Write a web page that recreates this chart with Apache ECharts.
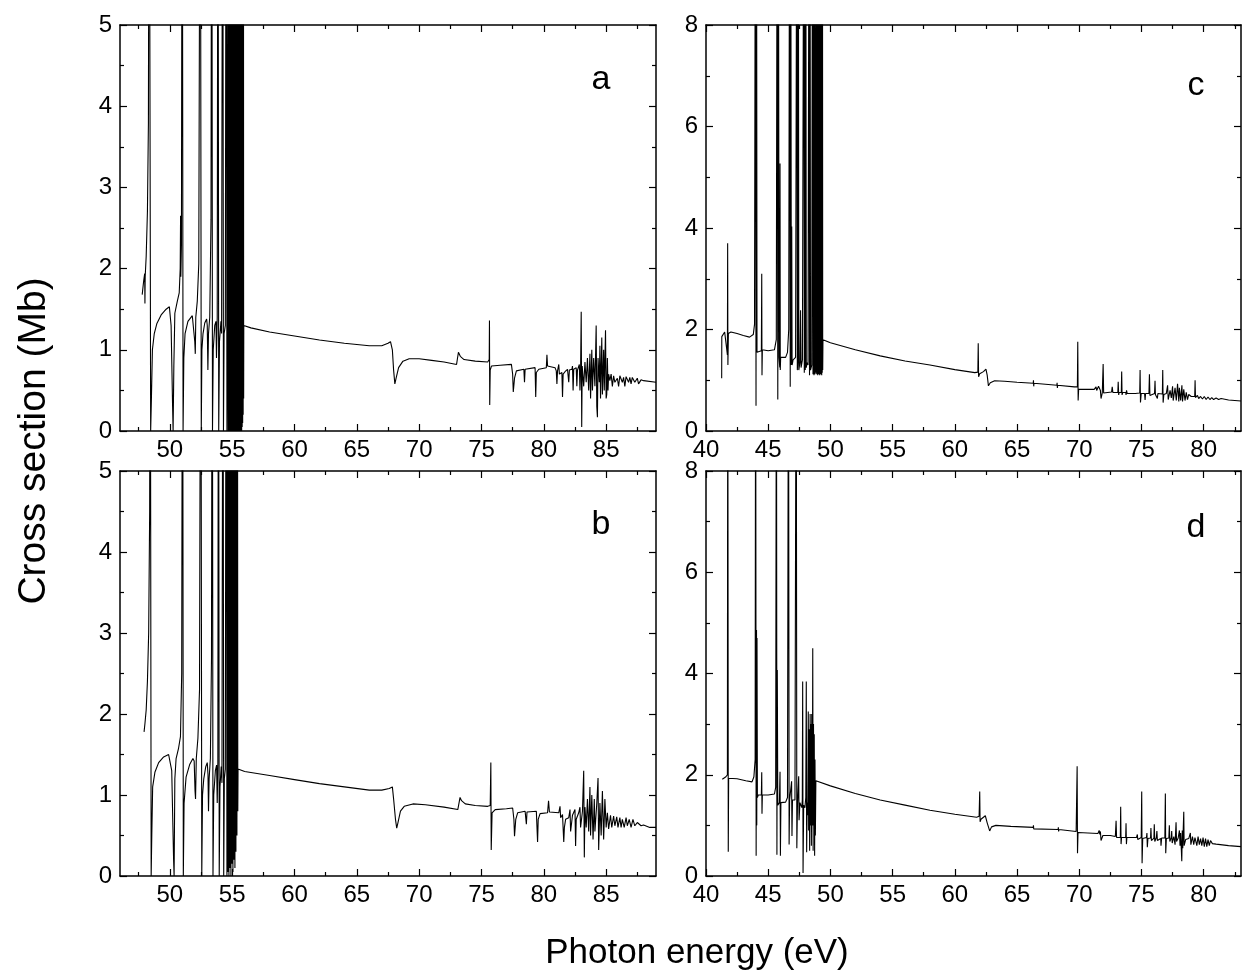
<!DOCTYPE html>
<html><head><meta charset="utf-8">
<script src="https://cdn.jsdelivr.net/npm/echarts@6/dist/echarts.min.js"></script>
<style>html,body{margin:0;padding:0;background:#fff}#chart{width:1249px;height:980px}</style>
</head><body><div id="chart"></div>
<script>
// ---- data: [photon energy (eV), cross section (Mb)] ----
const panelA = [
[47.78,1.68],[47.9,1.85],[47.98,1.94],[48.0,1.57],[48.02,1.9],[48.1,2.15],[48.2,2.7],[48.28,3.8],[48.34,9],[48.46,0],[48.52,0.4],[48.6,1.0],[48.75,1.2],[48.95,1.32],[49.3,1.43],[49.7,1.5],[49.96,1.53],[50.1,1.3],[50.22,0.3],[50.26,0],[50.32,0.8],[50.4,1.45],[50.6,1.6],[50.75,1.7],[50.83,2.0],[50.86,2.65],[50.88,1.9],[50.93,2.3],[50.99,9],[51.06,0],[51.12,0.9],[51.22,1.2],[51.45,1.35],[51.8,1.42],[51.92,1.42],[52.0,1.1],[52.04,0.95],[52.08,1.4],[52.2,1.6],[52.32,2.06],[52.44,9],[52.52,0],[52.57,1.0],[52.66,1.2],[52.8,1.33],[52.95,1.38],[53.0,1.3],[53.05,0.75],[53.1,1.2],[53.2,1.4],[53.3,2.6],[53.36,9],[53.42,0],[53.48,1.0],[53.6,1.3],[53.7,1.35],[53.74,0.9],[53.8,1.4],[53.86,9],[53.92,0],[53.98,1.1],[54.1,1.35],[54.15,1.2],[54.24,9],[54.3,0],[54.35,1.2],[54.45,1.3],[54.52,9],[54.58,0],[54.62,1.2],
[54.66,9],[54.68,0],[54.70,9],[54.72,0],[54.74,9],[54.76,0],[54.78,9],[54.80,0],[54.82,9],[54.84,0],[54.86,9],[54.88,0],[54.90,9],[54.92,0],[54.94,9],[54.96,0],[54.98,9],[55.00,0],[55.02,9],[55.04,0],[55.06,9],[55.08,0],[55.10,9],[55.12,0],[55.14,9],[55.16,0],[55.18,9],[55.20,0],[55.22,9],[55.24,0],[55.26,9],[55.28,0],[55.30,9],[55.32,0],[55.34,9],[55.36,0],[55.38,9],[55.40,0],[55.42,9],[55.44,0],[55.46,9],[55.48,0],[55.50,9],[55.52,0],[55.54,9],[55.56,0],[55.58,9],[55.60,0],[55.62,9],[55.64,0],[55.66,9],[55.68,0],[55.70,9],[55.72,0],[55.74,9],[55.76,0],[55.78,9],[55.80,0.05],[55.82,9],[55.84,0.1],[55.86,9],[55.88,0.2],[55.90,9],[55.92,0.4],[55.93,1.3],
[56.5,1.27],[58,1.22],[60,1.17],[62,1.12],[64,1.08],[66,1.05],[67,1.05],[67.5,1.08],[67.7,1.1],[67.85,1.0],[67.95,0.75],[68.05,0.58],[68.15,0.65],[68.35,0.78],[68.7,0.86],[69.2,0.89],[70,0.89],[71,0.87],[72,0.85],[73.0,0.82],[73.1,0.81],[73.15,0.97],[73.3,0.92],[73.6,0.88],[74.5,0.86],[75.5,0.85],[75.62,0.88],[75.64,1.36],[75.66,0.32],[75.7,0.75],[75.8,0.8],[76.5,0.81],[77.4,0.82],[77.5,0.7],[77.55,0.48],[77.65,0.65],[77.8,0.74],[78.4,0.76],[78.45,0.6],[78.5,0.76],[79.3,0.78],[79.35,0.42],[79.4,0.72],[79.6,0.76],[80.2,0.78],[80.25,0.94],[80.3,0.8],[80.9,0.78],[81.0,0.74],[81.05,0.58],[81.1,0.74],[81.2,0.82],[81.25,0.7],[81.45,0.72],[81.5,0.42],[81.55,0.7],[81.7,0.73],[81.9,0.76],[82.0,0.6],[82.05,0.75],[82.25,0.76],[82.3,0.8],[82.35,0.5],[82.4,0.76],[82.6,0.78],[82.65,0.55],[82.7,0.75],[82.85,0.82],[82.9,0.5],[82.95,0.75],[83.0,1.47],[83.04,0.05],[83.08,0.8],[83.2,0.55],[83.3,0.85],[83.4,0.6],[83.5,0.9],[83.6,0.5],[83.7,0.95],[83.75,0.4],[83.85,1.0],[83.9,0.5],[84.0,0.9],[84.1,0.55],[84.2,1.3],[84.25,0.3],[84.3,0.17],[84.35,0.9],[84.45,0.6],[84.5,1.05],[84.55,0.4],[84.65,1.15],[84.7,0.45],[84.8,1.0],[84.85,0.5],[84.95,1.24],[85.0,0.4],[85.05,0.45],[85.1,0.9],[85.15,0.5],[85.2,0.7],[85.3,0.62],[85.4,0.7],[85.5,0.55],[85.6,0.68],[85.7,0.6],[85.9,0.65],[86.0,0.55],[86.1,0.68],[86.3,0.6],[86.4,0.66],[86.5,0.55],[86.6,0.67],[86.8,0.6],[86.9,0.66],[87.0,0.58],[87.1,0.66],[87.3,0.6],[87.5,0.65],[87.6,0.58],[87.8,0.63],[88,0.62],[89,0.6]
];
const panelB = [
[47.93,1.78],[48.0,1.88],[48.1,2.05],[48.2,2.4],[48.3,3.0],[48.38,4.5],[48.42,9],[48.5,0],[48.55,0.5],[48.62,1.1],[48.8,1.28],[49.1,1.4],[49.5,1.47],[49.9,1.5],[50.02,1.5],[50.15,1.3],[50.3,0.2],[50.34,0],[50.4,1.2],[50.5,1.45],[50.7,1.58],[50.85,1.72],[50.95,2.5],[51.02,9],[51.08,0],[51.14,0.9],[51.3,1.22],[51.6,1.38],[51.85,1.45],[51.95,1.42],[52.02,1.05],[52.06,0.95],[52.12,1.45],[52.25,1.7],[52.38,2.3],[52.48,9],[52.56,0],[52.62,1.0],[52.72,1.2],[52.88,1.35],[53.0,1.4],[53.06,1.25],[53.1,0.8],[53.15,1.2],[53.25,1.45],[53.34,2.7],[53.4,9],[53.46,0],[53.52,1.0],[53.65,1.3],[53.75,1.37],[53.8,0.9],[53.85,1.4],[53.9,9],[53.96,0],[54.02,1.1],[54.12,1.35],[54.18,1.15],[54.26,9],[54.32,0],[54.37,1.2],[54.45,1.32],[54.52,9],[54.58,0],[54.62,9],[54.66,0.05],[54.7,9],[54.74,0],[54.78,9],[54.82,0.1],[54.86,9],[54.9,0],[54.94,9],[54.98,0.15],[55.02,9],[55.06,0.05],[55.1,9],[55.14,0.2],[55.18,9],[55.22,0.1],[55.26,9],[55.3,0.3],[55.34,9],[55.38,0.5],[55.42,9],[55.45,0.8],[55.47,1.32],
[56,1.29],[58,1.24],[60,1.19],[62,1.14],[64,1.1],[66,1.06],[67,1.06],[67.6,1.08],[67.85,1.1],[67.95,0.95],[68.1,0.7],[68.2,0.59],[68.3,0.66],[68.5,0.8],[68.8,0.86],[69.5,0.89],[70.5,0.88],[72,0.85],[73.1,0.82],[73.2,0.81],[73.28,0.97],[73.4,0.93],[73.7,0.89],[74.5,0.87],[75.5,0.86],[75.7,0.87],[75.75,1.40],[75.78,0.32],[75.85,0.78],[76.1,0.82],[77.0,0.83],[77.5,0.84],[77.6,0.7],[77.65,0.49],[77.75,0.7],[77.9,0.78],[78.5,0.8],[78.6,0.64],[78.65,0.79],[79.4,0.8],[79.5,0.42],[79.55,0.7],[79.7,0.77],[80.3,0.78],[80.38,0.93],[80.45,0.79],[81.2,0.78],[81.3,0.86],[81.35,0.72],[81.5,0.76],[81.6,0.42],[81.65,0.6],[81.75,0.7],[82.0,0.72],[82.1,0.82],[82.15,0.55],[82.3,0.75],[82.5,0.82],[82.55,0.37],[82.6,0.7],[82.8,0.78],[82.9,0.85],[82.95,0.6],[83.1,0.8],[83.2,1.3],[83.25,0.23],[83.3,0.85],[83.4,0.6],[83.5,0.95],[83.6,0.55],[83.7,1.1],[83.75,0.5],[83.85,1.0],[83.95,0.45],[84.05,0.95],[84.1,0.55],[84.25,0.9],[84.35,1.21],[84.4,0.32],[84.5,0.9],[84.6,0.5],[84.7,1.05],[84.8,0.45],[84.9,0.95],[85.0,0.6],[85.1,0.78],[85.2,0.58],[85.35,0.75],[85.45,0.6],[85.6,0.74],[85.7,0.62],[85.85,0.73],[85.95,0.6],[86.1,0.72],[86.2,0.6],[86.3,0.7],[86.45,0.6],[86.6,0.72],[86.7,0.62],[86.85,0.7],[87.0,0.6],[87.15,0.7],[87.3,0.62],[87.5,0.66],[87.8,0.62],[88.0,0.63],[88.5,0.6],[89,0.6]
];
const panelC = [
[41.26,1.04],[41.27,1.86],[41.5,1.95],[41.65,1.97],[41.72,1.5],[41.74,3.7],[41.76,1.3],[41.8,1.92],[42.0,1.95],[42.5,1.92],[43.0,1.88],[43.5,1.85],[43.8,1.9],[43.9,2.1],[43.97,12],[44.02,0.5],[44.06,12],[44.1,1.55],[44.2,1.55],[44.45,1.58],[44.48,3.1],[44.5,1.1],[44.53,1.6],[45.0,1.58],[45.5,1.6],[45.65,1.8],[45.72,12],[45.77,0.62],[45.82,12],[45.87,1.45],[45.93,1.25],[45.95,5.27],[45.97,1.2],[46.0,1.45],[46.4,1.45],[46.55,1.55],[46.65,2.0],[46.72,12],[46.77,0.87],[46.81,12],[46.86,1.3],[46.89,4.03],[46.92,1.3],[47.0,1.4],[47.2,1.45],[47.3,12],[47.34,1.2],[47.38,1.4],[47.42,12],[47.46,1.2],[47.55,1.35],[47.6,2.38],[47.64,1.25],[47.75,1.4],[47.86,12],[47.9,1.15],[47.94,12],[47.98,1.2],[48.02,12],[48.06,1.25],[48.12,1.35],[48.2,1.3],[48.28,12],[48.32,1.1],[48.36,12],[48.4,1.2],[48.5,1.3],[48.56,12],[48.6,1.12],[48.64,12],[48.68,1.1],[48.72,12],[48.76,1.12],[48.8,1.3],
[48.84,12],[48.86,1.15],[48.88,12],[48.90,1.12],[48.92,12],[48.94,1.15],[48.96,12],[48.98,1.1],[49.00,12],[49.02,1.18],[49.04,12],[49.06,1.12],[49.08,12],[49.10,1.15],[49.12,12],[49.14,1.1],[49.16,12],[49.18,1.16],[49.20,12],[49.22,1.12],[49.24,12],[49.26,1.15],[49.28,12],[49.30,1.1],[49.32,12],[49.34,1.15],[49.36,12],[49.38,1.2],[49.40,1.8],
[50,1.74],[52,1.6],[54,1.48],[56,1.38],[58,1.3],[60,1.21],[61.6,1.15],[61.85,1.16],[61.88,1.73],[61.91,1.07],[62.0,1.13],[62.3,1.17],[62.5,1.22],[62.6,1.1],[62.7,0.89],[62.85,0.95],[63.2,0.99],[64,0.98],[65,0.96],[66.3,0.94],[66.32,1.0],[66.34,0.88],[66.36,0.94],[68.2,0.9],[68.22,0.95],[68.24,0.85],[68.26,0.9],[69.6,0.87],[69.85,0.87],[69.88,1.76],[69.91,0.6],[69.95,0.82],[70.5,0.82],[71.2,0.82],[71.35,0.87],[71.4,0.8],[71.55,0.88],[71.7,0.8],[71.75,0.64],[71.85,0.75],[71.92,1.32],[71.96,0.75],[72.1,0.77],[72.6,0.77],[72.65,0.87],[72.7,0.76],[73.1,0.76],[73.13,0.97],[73.17,0.71],[73.2,0.76],[73.38,0.76],[73.41,1.17],[73.44,0.71],[73.5,0.76],[73.74,0.76],[73.76,0.71],[73.8,0.8],[73.85,0.74],[74.5,0.74],[74.86,0.75],[74.89,1.2],[74.92,0.56],[74.98,0.74],[75.25,0.74],[75.29,0.61],[75.33,0.74],[75.6,0.74],[75.64,1.12],[75.68,0.7],[75.8,0.73],[76.05,0.74],[76.09,0.99],[76.12,0.72],[76.26,0.72],[76.28,0.64],[76.32,0.74],[76.68,0.73],[76.71,1.2],[76.74,0.56],[76.8,0.72],[77.0,0.74],[77.1,0.9],[77.15,0.62],[77.3,0.8],[77.4,0.65],[77.5,0.88],[77.55,0.6],[77.7,0.85],[77.8,0.6],[77.9,0.93],[78.0,0.58],[78.05,0.85],[78.15,0.6],[78.25,0.9],[78.3,0.58],[78.4,0.82],[78.5,0.6],[78.6,0.76],[78.7,0.62],[78.8,0.72],[79.0,0.68],[79.28,0.68],[79.31,1.0],[79.34,0.66],[79.5,0.7],[79.6,0.64],[79.75,0.68],[79.9,0.63],[80.05,0.68],[80.2,0.62],[80.35,0.67],[80.5,0.62],[80.65,0.66],[80.8,0.62],[81.0,0.65],[81.2,0.62],[81.4,0.64],[82,0.61],[83,0.59]
];
const panelD = [
[41.31,1.91],[41.6,1.96],[41.72,2.0],[41.75,12],[41.79,0.48],[41.82,1.93],[42.5,1.92],[43.2,1.88],[43.7,1.86],[43.85,1.96],[43.95,2.3],[43.99,12],[44.03,0.4],[44.06,4.86],[44.08,1.0],[44.1,4.7],[44.13,1.55],[44.2,1.6],[44.45,1.6],[44.48,2.05],[44.5,1.23],[44.53,1.6],[45.0,1.6],[45.5,1.62],[45.6,1.75],[45.66,12],[45.7,0.42],[45.73,4.07],[45.77,1.4],[45.9,1.45],[45.95,2.06],[45.98,0.4],[46.02,1.45],[46.4,1.46],[46.55,1.55],[46.63,12],[46.68,0.62],[46.72,1.5],[46.88,1.87],[46.91,0.79],[46.95,1.5],[47.15,1.5],[47.25,12],[47.3,0.55],[47.35,1.4],[47.45,1.97],[47.48,1.1],[47.55,1.45],[47.7,1.35],[47.74,1.5],[47.77,3.84],[47.8,0.06],[47.85,1.4],[47.95,1.35],[48.02,1.55],[48.06,3.84],[48.09,0.47],[48.13,1.45],[48.18,1.2],[48.22,3.25],[48.25,0.9],[48.3,2.9],[48.33,0.5],[48.37,3.2],[48.4,1.0],[48.44,3.0],[48.47,0.6],[48.5,3.2],[48.53,1.0],[48.56,2.5],[48.58,4.5],[48.61,0.5],[48.64,3.0],[48.67,1.0],[48.7,2.8],[48.73,0.4],[48.76,2.3],[48.79,0.8],[48.83,1.88],
[50,1.78],[52,1.63],[54,1.5],[56,1.4],[58,1.3],[60,1.22],[61.75,1.16],[61.95,1.18],[62.0,1.67],[62.03,1.07],[62.1,1.12],[62.25,1.15],[62.45,1.19],[62.6,1.05],[62.8,0.89],[62.95,0.97],[63.3,1.0],[64.5,0.98],[66.3,0.96],[66.32,1.0],[66.34,0.93],[66.36,0.96],[68.3,0.92],[68.32,0.96],[68.34,0.88],[68.36,0.92],[69.75,0.88],[69.8,0.88],[69.83,2.17],[69.86,0.45],[69.9,0.86],[71.5,0.84],[71.6,0.9],[71.65,0.82],[71.7,0.88],[71.75,0.7],[71.8,0.68],[71.9,0.8],[72.5,0.8],[72.9,0.78],[72.96,1.09],[73.0,0.76],[73.3,0.76],[73.33,1.37],[73.36,0.63],[73.4,0.76],[73.73,0.76],[73.76,1.04],[73.79,0.63],[73.83,0.76],[74.6,0.76],[74.67,0.82],[74.7,0.72],[74.98,0.76],[75.02,1.67],[75.05,0.25],[75.1,0.74],[75.4,0.76],[75.44,0.85],[75.47,0.57],[75.52,0.74],[75.73,0.75],[75.76,0.95],[75.8,0.7],[76.0,0.75],[76.03,1.02],[76.07,0.68],[76.2,0.76],[76.24,0.89],[76.28,0.7],[76.55,0.74],[76.57,0.6],[76.62,0.75],[76.88,0.75],[76.92,1.63],[76.95,0.45],[77.0,0.74],[77.2,0.75],[77.24,1.0],[77.28,0.68],[77.4,0.76],[77.43,0.89],[77.47,0.65],[77.6,0.78],[77.7,0.62],[77.78,1.06],[77.82,0.68],[77.95,0.75],[78.05,0.9],[78.1,0.6],[78.15,0.85],[78.2,0.55],[78.24,0.29],[78.28,0.9],[78.32,0.55],[78.36,0.95],[78.4,1.27],[78.43,0.6],[78.55,0.72],[78.8,0.74],[78.93,0.85],[78.97,0.62],[79.1,0.78],[79.2,0.62],[79.3,0.76],[79.45,0.6],[79.55,0.78],[79.65,0.62],[79.75,0.74],[79.85,0.6],[79.95,0.76],[80.05,0.58],[80.15,0.74],[80.25,0.58],[80.35,0.72],[80.45,0.6],[80.55,0.7],[80.7,0.64],[81,0.63],[82,0.6],[83,0.58]
];

// ---- tick values and labels ----
const xMajorAB = [50,55,60,65,70,75,80,85];
const xMinorAB = [47.5,52.5,57.5,62.5,67.5,72.5,77.5,82.5,87.5];
const yMajorAB = [0,1,2,3,4,5];
const yMinorAB = [0.5,1.5,2.5,3.5,4.5];
const xMajorCD = [40,45,50,55,60,65,70,75,80];
const xMinorCD = [42.5,47.5,52.5,57.5,62.5,67.5,72.5,77.5,82.5];
const yMajorCD = [0,2,4,6,8];
const yMinorCD = [1,3,5,7];
const panelLetters = ['a','b','c','d'];
const xTitle = 'Photon energy (eV)';
const yTitle = 'Cross section (Mb)';

const FONT = '"Liberation Sans", Arial, Helvetica, sans-serif';
const panels = [
  {data: panelA, grid:{left:120, top:25, width:536, height:406}, x:[46,89], y:[0,5], xM:xMajorAB, xm:xMinorAB, yM:yMajorAB, ym:yMinorAB, lab:[601,80]},
  {data: panelB, grid:{left:120, top:471, width:536, height:405}, x:[46,89], y:[0,5], xM:xMajorAB, xm:xMinorAB, yM:yMajorAB, ym:yMinorAB, lab:[601,525]},
  {data: panelC, grid:{left:706, top:25, width:535, height:406}, x:[40,83], y:[0,8], xM:xMajorCD, xm:xMinorCD, yM:yMajorCD, ym:yMinorCD, lab:[1196,86]},
  {data: panelD, grid:{left:706, top:471, width:535, height:405}, x:[40,83], y:[0,8], xM:xMajorCD, xm:xMinorCD, yM:yMajorCD, ym:yMinorCD, lab:[1196,528]}
];

const grids = [], xAxes = [], yAxes = [], series = [], graphics = [];
const frameSt = {color:'#000', width:1.5};
const tickSt = {color:'#000', width:1.2};
function mkAxis(kind, gi, pos, range, ticks, len, showLine, showLabel) {
  return {
    type:'value', gridIndex:gi, position:pos, min:range[0], max:range[1],
    splitLine:{show:false},
    axisLine:{show:showLine, onZero:false, lineStyle:frameSt},
    axisTick:{show:true, inside:true, length:len, customValues:ticks, lineStyle:tickSt},
    axisLabel:{show:showLabel, customValues:ticks, color:'#000', fontFamily:FONT, fontSize:24, margin: kind==='x'?7:8},
    minorTick:{show:false}
  };
}
panels.forEach((p, i) => {
  grids.push(Object.assign({containLabel:false}, p.grid));
  const xb = xAxes.length;
  xAxes.push(mkAxis('x', i, 'bottom', p.x, p.xM, 7, true, true));
  xAxes.push(mkAxis('x', i, 'bottom', p.x, p.xm, 4, false, false));
  xAxes.push(mkAxis('x', i, 'top', p.x, p.xM, 7, true, false));
  xAxes.push(mkAxis('x', i, 'top', p.x, p.xm, 4, false, false));
  const yb = yAxes.length;
  yAxes.push(mkAxis('y', i, 'left', p.y, p.yM, 7, true, true));
  yAxes.push(mkAxis('y', i, 'left', p.y, p.ym, 4, false, false));
  yAxes.push(mkAxis('y', i, 'right', p.y, p.yM, 7, true, false));
  yAxes.push(mkAxis('y', i, 'right', p.y, p.ym, 4, false, false));
  series.push({type:'line', xAxisIndex:xb, yAxisIndex:yb, data:p.data, showSymbol:false, symbol:'none',
    clip:true, lineStyle:{color:'#000', width:1.1}, animation:false, silent:true});
  graphics.push({type:'text', x:p.lab[0], y:p.lab[1], style:{text:panelLetters[i], font:'34px '+FONT, fill:'#000', textAlign:'center', textVerticalAlign:'middle'}});
});
graphics.push({type:'text', x:697, y:953, style:{text:xTitle, font:'35px '+FONT, fill:'#000', textAlign:'center', textVerticalAlign:'middle'}});
graphics.push({type:'text', x:34, y:441, rotation:Math.PI/2, style:{text:yTitle, font:'39px '+FONT, fill:'#000', textAlign:'center', textVerticalAlign:'middle'}});

const chart = echarts.init(document.getElementById('chart'), null, {renderer:'canvas'});
chart.setOption({
  backgroundColor:'#fff', animation:false,
  grid:grids, xAxis:xAxes, yAxis:yAxes, series:series, graphic:graphics
});
</script></body></html>
